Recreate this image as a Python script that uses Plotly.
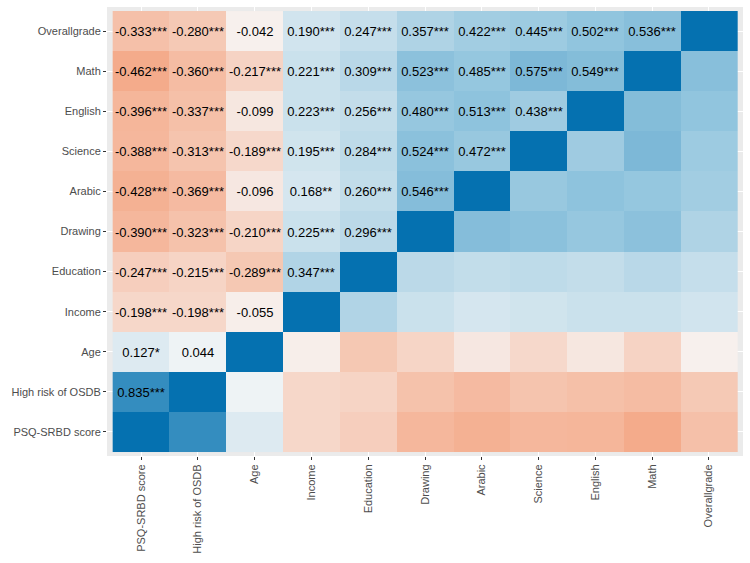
import plotly.graph_objects as go

categories = ["PSQ-SRBD score", "High risk of OSDB", "Age", "Income", "Education",
              "Drawing", "Arabic", "Science", "English", "Math", "Overallgrade"]

# Lower-triangle correlations: row i holds corr with categories 0..i-1
corr_hr = [0.835]
corr_age = [0.127, 0.044]
corr_income = [-0.198, -0.198, -0.055]
corr_education = [-0.247, -0.215, -0.289, 0.347]
corr_drawing = [-0.390, -0.323, -0.210, 0.225, 0.296]
corr_arabic = [-0.428, -0.369, -0.096, 0.168, 0.260, 0.546]
corr_science = [-0.388, -0.313, -0.189, 0.195, 0.284, 0.524, 0.472]
corr_english = [-0.396, -0.337, -0.099, 0.223, 0.256, 0.480, 0.513, 0.438]
corr_math = [-0.462, -0.360, -0.217, 0.221, 0.309, 0.523, 0.485, 0.575, 0.549]
corr_overall = [-0.333, -0.280, -0.042, 0.190, 0.247, 0.357, 0.422, 0.445, 0.502, 0.536]

stars_hr = ["***"]
stars_age = ["*", ""]
stars_income = ["***", "***", ""]
stars_education = ["***", "***", "***", "***"]
stars_drawing = ["***", "***", "***", "***", "***"]
stars_arabic = ["***", "***", "", "**", "***", "***"]
stars_science = ["***", "***", "***", "***", "***", "***", "***"]
stars_english = ["***", "***", "", "***", "***", "***", "***", "***"]
stars_math = ["***"] * 9
stars_overall = ["***", "***", "", "***", "***", "***", "***", "***", "***", "***"]

lower = [[], corr_hr, corr_age, corr_income, corr_education, corr_drawing,
         corr_arabic, corr_science, corr_english, corr_math, corr_overall]
stars = [[], stars_hr, stars_age, stars_income, stars_education, stars_drawing,
         stars_arabic, stars_science, stars_english, stars_math, stars_overall]

n = len(categories)
z = [[1.0] * n for _ in range(n)]
text = [[""] * n for _ in range(n)]
for i in range(n):
    for j in range(i):
        v = lower[i][j]
        z[i][j] = v
        z[j][i] = v
        text[i][j] = f"{v:.3f}{stars[i][j]}"

colorscale = [[0.0, "#CA0020"], [0.25, "#F4A582"], [0.5, "#F7F7F7"],
              [0.75, "#92C5DE"], [1.0, "#0571B0"]]

fig = go.Figure(go.Heatmap(
    z=z, x=categories, y=categories, text=text, texttemplate="%{text}",
    textfont=dict(color="black", size=13, family="Liberation Sans, Arial, sans-serif"),
    colorscale=colorscale, zmin=-1, zmax=1, showscale=False, hoverinfo="skip",
    xgap=0, ygap=0,
))

axis_common = dict(
    type="category", showgrid=True, gridcolor="white", gridwidth=1,
    zeroline=False, showline=False, ticks="outside", ticklen=3, tickwidth=1,
    tickcolor="#333333", tickfont=dict(size=11, color="#4D4D4D"),
    range=[-0.6, n - 1 + 0.6],
)
fig.update_xaxes(**axis_common, tickangle=-90)
fig.update_yaxes(**axis_common)

fig.update_layout(
    width=750, height=563,
    margin=dict(l=107, r=7, t=7, b=107),
    plot_bgcolor="#EBEBEB", paper_bgcolor="white",
    font=dict(family="Liberation Sans, Arial, sans-serif"),
)

fig.write_html("out.html")
